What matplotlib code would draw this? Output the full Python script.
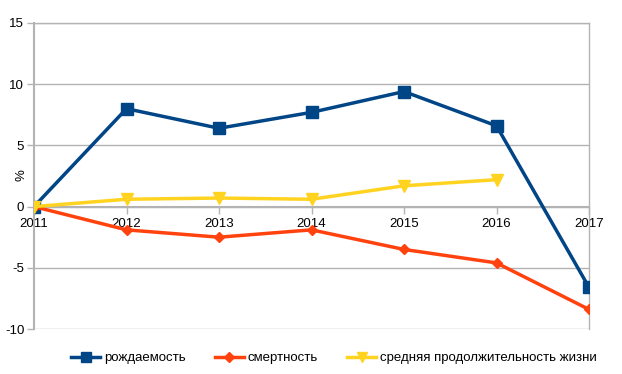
import matplotlib
matplotlib.use("Agg")
import matplotlib.pyplot as plt

plt.rcParams['font.family'] = ['Liberation Sans', 'DejaVu Sans']
plt.rcParams['axes.unicode_minus'] = False

years = [2011, 2012, 2013, 2014, 2015, 2016, 2017]
rozhdaemost = [0, 8.0, 6.4, 7.7, 9.4, 6.6, -6.6]
smertnost = [0, -1.9, -2.5, -1.9, -3.5, -4.6, -8.4]
years_life = [2011, 2012, 2013, 2014, 2015, 2016]
zhizn = [0, 0.6, 0.7, 0.6, 1.7, 2.2]

fig = plt.figure(figsize=(6.22, 3.74), dpi=100)
ax = fig.add_axes([34 / 622, 1 - 329 / 374, 555 / 622, 306 / 374])

grid_c = '#b3b3b3'
ax.plot(years, rozhdaemost, color='#004586', lw=2.5, marker='s', ms=8,
        label='рождаемость', zorder=3)
ax.plot(years, smertnost, color='#ff420e', lw=2.5, marker='D', ms=5.5,
        label='смертность', zorder=3)
ax.plot(years_life, zhizn, color='#ffd320', lw=2.5, marker='v', ms=8.5,
        label='средняя продолжительность жизни', zorder=3)

ax.set_xlim(2011, 2017)
ax.set_ylim(-10, 15)
ax.set_yticks([-10, -5, 0, 5, 10, 15])
ax.set_xticks(years)
ax.set_xticklabels([str(y) for y in years])
ax.yaxis.grid(True, color=grid_c, lw=1)
ax.set_axisbelow(True)

for s in ['top', 'right', 'left']:
    ax.spines[s].set_color(grid_c)
    ax.spines[s].set_linewidth(1)
ax.spines['left'].set_linewidth(1.5)
ax.spines['bottom'].set_position(('data', 0))
ax.spines['bottom'].set_color(grid_c)
ax.spines['bottom'].set_linewidth(1.5)

ax.tick_params(axis='both', colors=grid_c, labelcolor='black', labelsize=9.5,
               length=5, width=1)
ax.tick_params(axis='y', pad=2)
ax.tick_params(axis='x', pad=3)

ax.set_ylabel('%', fontsize=9.5)
ax.yaxis.set_label_coords(-0.012, 0.503)

fig.legend(loc='center', bbox_to_anchor=(334 / 622, 1 - 358 / 374), ncol=3,
           frameon=False, fontsize=9.5, handlelength=2.2, columnspacing=2.2,
           handletextpad=0.3, markerscale=0.9)

fig.savefig('out.png', dpi=100)
